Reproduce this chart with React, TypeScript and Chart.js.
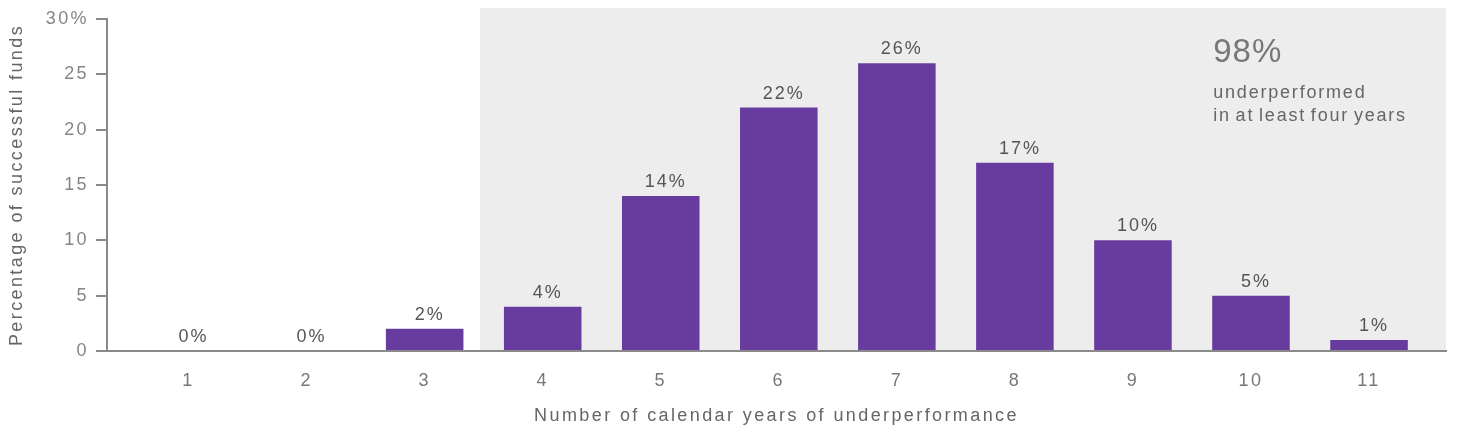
import React, { useEffect, useRef } from 'react';
import { Chart, registerables } from 'chart.js';

Chart.register(...registerables);

// ---- data ----
const YEARS = [1, 2, 3, 4, 5, 6, 7, 8, 9, 10, 11];
const YEAR_LABELS = ['1', '2', '3', '4', '5', '6', '7', '8', '9', '10', '11'];
const SHARE_OF_FUNDS = [0, 0, 2, 4, 14, 22, 26, 17, 10, 5, 1];
const Y_TICK_VALUES = [0, 5, 10, 15, 20, 25, 30];
const Y_TICK_LABELS = ['0', '5', '10', '15', '20', '25', '30%'];
const X_TITLE = 'Number of calendar years of underperformance';
const Y_TITLE = 'Percentage of successful funds';
const CALLOUT_BIG = '98%';
const CALLOUT_LINES = ['underperformed', 'in at least four years'];
const SHADE_FROM_YEAR = 3.47;
const CALLOUT_AT_YEAR = 9.68;

const FONT = "'Liberation Sans', Arial, sans-serif";
const BAR_COLOR = '#683c9e';

const decorPlugin = {
  id: 'decor',
  beforeDraw(chart: any) {
    const { ctx, chartArea, scales } = chart;
    const x = scales.x;
    const y = scales.y;
    const left = x.getPixelForValue(SHADE_FROM_YEAR);
    const top = chartArea.top - 11;
    const bottom = y.getPixelForValue(0);
    ctx.save();
    ctx.fillStyle = '#ededed';
    ctx.fillRect(left, top, chartArea.right - left, bottom - top);
    ctx.restore();
    ctx.letterSpacing = '2.4px';
  },
  afterDatasetsDraw(chart: any) {
    const { ctx } = chart;
    const meta = chart.getDatasetMeta(0);
    ctx.save();
    ctx.letterSpacing = '2px';
    ctx.font = `18px ${FONT}`;
    ctx.fillStyle = '#555555';
    ctx.textAlign = 'center';
    ctx.textBaseline = 'alphabetic';
    meta.data.forEach((bar: any, i: number) => {
      ctx.fillText(`${SHARE_OF_FUNDS[i]}%`, bar.x + 5, bar.y - 9);
    });
    ctx.restore();
  },
  afterDraw(chart: any) {
    const { ctx, chartArea, scales } = chart;
    const left = scales.x.getPixelForValue(CALLOUT_AT_YEAR);
    ctx.save();
    ctx.textAlign = 'left';
    ctx.textBaseline = 'alphabetic';
    ctx.letterSpacing = '1px';
    ctx.fillStyle = '#777777';
    ctx.font = `33px ${FONT}`;
    ctx.fillText(CALLOUT_BIG, left, chartArea.top + 43);
    ctx.letterSpacing = '1.8px';
    (ctx as any).wordSpacing = '-2px';
    ctx.fillStyle = '#666666';
    ctx.font = `18px ${FONT}`;
    CALLOUT_LINES.forEach((line, i) => {
      ctx.fillText(line, left, chartArea.top + 79 + i * 23);
    });
    (ctx as any).wordSpacing = '0px';
    ctx.restore();
  },
};

export default function App() {
  const canvasRef = useRef<HTMLCanvasElement | null>(null);

  useEffect(() => {
    if (!canvasRef.current) return;
    const chart = new Chart(canvasRef.current, {
      type: 'bar',
      data: {
        datasets: [
          {
            data: YEARS.map((yr, i) => ({ x: yr, y: SHARE_OF_FUNDS[i] })),
            backgroundColor: BAR_COLOR,
            borderWidth: 0,
            barPercentage: 0.657,
            categoryPercentage: 1,
          },
        ],
      },
      options: {
        responsive: false,
        animation: false,
        events: [],
        layout: { padding: { top: 19, right: 21, left: 0, bottom: 0 } },
        plugins: {
          legend: { display: false },
          tooltip: { enabled: false },
        },
        scales: {
          x: {
            type: 'linear',
            offset: false,
            min: 0.309,
            max: 11.652,
            afterBuildTicks: (scale: any) => {
              scale.ticks = YEARS.map((v) => ({ value: v }));
            },
            afterFit: (scale: any) => {
              scale.height = 80;
            },
            grid: { display: false, drawTicks: false, offset: false },
            border: { display: true, color: '#8a8a8a', width: 2 },
            ticks: {
              autoSkip: false,
              maxRotation: 0,
              padding: 19,
              color: '#777777',
              font: { family: FONT, size: 18 },
              callback: (v: any) => {
                const idx = YEARS.indexOf(Number(v));
                return idx >= 0 ? YEAR_LABELS[idx] : '';
              },
            },
            title: {
              display: true,
              text: X_TITLE,
              color: '#666666',
              font: { family: FONT, size: 18 },
              padding: { top: 0, bottom: 4 },
            },
          },
          y: {
            type: 'linear',
            min: 0,
            max: 30,
            afterBuildTicks: (scale: any) => {
              scale.ticks = Y_TICK_VALUES.map((v) => ({ value: v }));
            },
            afterFit: (scale: any) => {
              scale.width = 107;
            },
            grid: {
              display: true,
              drawOnChartArea: false,
              drawTicks: true,
              tickLength: 11,
              color: '#8a8a8a',
              lineWidth: 2,
            },
            border: { display: true, color: '#8a8a8a', width: 2 },
            ticks: {
              padding: 7,
              color: '#858585',
              font: { family: FONT, size: 18 },
              callback: (v: any) => {
                const idx = Y_TICK_VALUES.indexOf(Number(v));
                return idx >= 0 ? Y_TICK_LABELS[idx] : '';
              },
            },
            title: {
              display: true,
              text: Y_TITLE,
              color: '#666666',
              font: { family: FONT, size: 18 },
              padding: { top: 6, bottom: 0 },
            },
          },
        },
      },
      plugins: [decorPlugin],
    } as any);
    return () => chart.destroy();
  }, []);

  return (
    <div style={{ position: 'absolute', left: 0, top: 0, width: 1467, height: 431, background: '#ffffff' }}>
      <canvas ref={canvasRef} width={1467} height={431} style={{ display: 'block' }} />
    </div>
  );
}
